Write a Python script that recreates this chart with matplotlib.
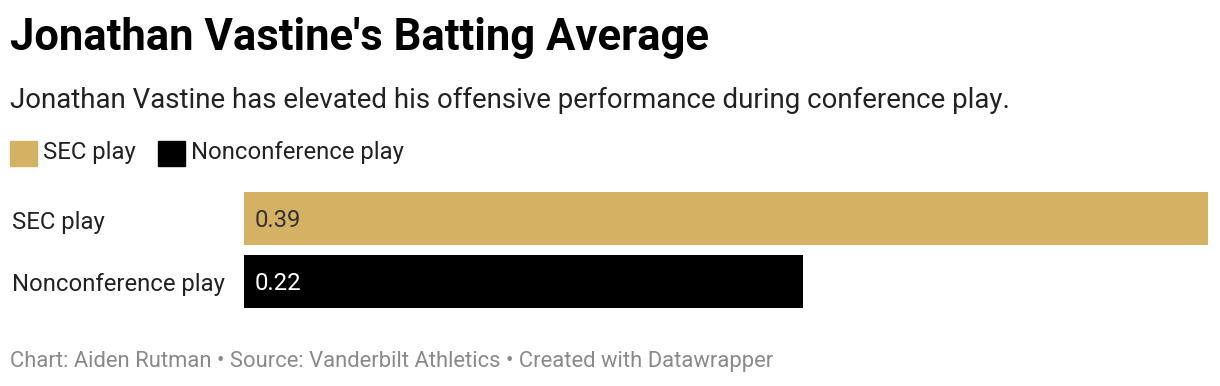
import matplotlib.pyplot as plt
from matplotlib.patches import Rectangle

plt.rcParams["font.family"] = ["Roboto", "DejaVu Sans"]

categories = ["SEC play", "Nonconference play"]
values = [0.386, 0.224]
value_labels = ["0.39", "0.22"]
colors = ["#d5b263", "#000000"]
label_colors = ["#333333", "#ffffff"]

W, H = 1220, 386
fig = plt.figure(figsize=(W / 100, H / 100), dpi=100)


def fx(px):
    return px / W


def fy(py):
    return 1 - py / H


# titles
fig.text(fx(10), fy(38), "Jonathan Vastine's Batting Average", fontsize=31.4,
         fontweight="bold", va="center", ha="left", color="#000000")
fig.text(fx(10), fy(100), "Jonathan Vastine has elevated his offensive performance during conference play.",
         fontsize=19.9, va="center", ha="left", color="#222222")

# legend
leg_x = [10, 158]
for i, (cat, c) in enumerate(zip(categories, colors)):
    fig.patches.append(Rectangle((fx(leg_x[i]), fy(166)), fx(27), 25 / H,
                                 transform=fig.transFigure, color=c))
    fig.text(fx(leg_x[i] + 33), fy(152), cat, fontsize=17.2, va="center",
             ha="left", color="#222222")

# bars
ax = fig.add_axes([fx(244), fy(308), fx(964), 116 / H])
ax.barh(range(len(values)), values, height=0.848, color=colors)
ax.set_xlim(0, max(values))
ax.set_ylim(1.424, -0.424)
ax.axis("off")
for i, (v, lab) in enumerate(zip(values, value_labels)):
    ax.annotate(lab, xy=(0, i), xytext=(8, -1.5), textcoords="offset points",
                fontsize=17.2, va="center", ha="left", color=label_colors[i])
    ax.annotate(categories[i], xy=(0, i), xycoords=("axes fraction", "data"),
                xytext=(fx(12), -2.5), textcoords=("figure fraction", "offset points"),
                fontsize=17.2, va="center", ha="left", color="#222222")

# footer
fig.text(fx(10), fy(362), "Chart: Aiden Rutman \u2022 Source: Vanderbilt Athletics \u2022 Created with Datawrapper",
         fontsize=15.8, va="center", ha="left", color="#8a8a8a")

fig.savefig("out.png", dpi=100)
